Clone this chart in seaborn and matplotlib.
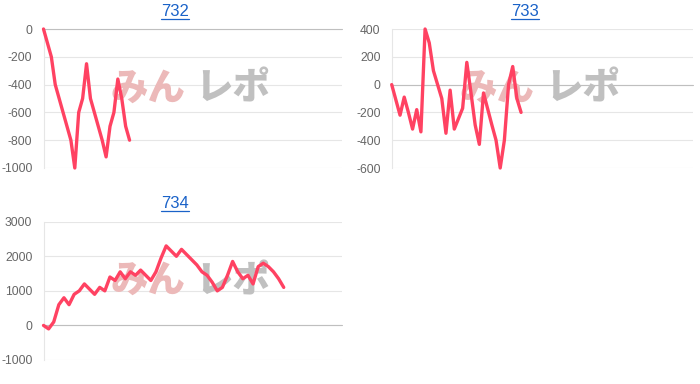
import matplotlib
matplotlib.use("Agg")
import matplotlib.pyplot as plt
from matplotlib.lines import Line2D
import numpy as np
import pandas as pd
import seaborn as sns

# ---------------- data ----------------
titles = ["732", "733", "734"]

vals_732 = [0, -100, -200, -400, -500, -600, -700, -800, -1000, -600, -500,
            -250, -500, -600, -700, -800, -920, -700, -600, -360, -500, -700, -800]

vals_733 = [0, -110, -220, -90, -200, -320, -180, -340, 400, 300, 100,
            0, -100, -350, -40, -320, -245, -170, 160, -60, -290, -430, -60,
            -175, -290, -400, -600, -400, 0, 130, -100, -200]

vals_734 = [0, -100, 100, 600, 800, 600, 900, 1000, 1200, 1050, 900,
            1100, 1000, 1400, 1300, 1550, 1350, 1550, 1450, 1600, 1450, 1300,
            1550, 1950, 2300, 2150, 2000, 2200, 2050, 1900, 1750, 1550, 1450,
            1250, 1000, 1100, 1450, 1850, 1550, 1350, 1450, 1200, 1700, 1800,
            1700, 1550, 1350, 1100]

ylims = [(-1000, 0), (-600, 400), (-1000, 3000)]
ysteps = [200, 200, 1000]
xmaxs = [76.3, 72.2, 58.4]

# ---------------- style ----------------
sns.set_theme(style="white")
plt.rcParams['font.family'] = ['Liberation Sans', 'DejaVu Sans']
plt.rcParams['axes.unicode_minus'] = False

LINE = '#ff4262'
GRID = '#e6e6e6'
ZERO = '#bfbfbf'
TICKC = '#666666'
LINK = '#1a62c8'

W, H = 700, 384
fig = plt.figure(figsize=(W / 100, H / 100), dpi=100)

# pixel boxes: left, top, right, bottom
boxes = [(43.5, 29, 342, 168), (391.7, 29, 693, 168), (43.5, 221.7, 342, 360)]
title_pos = [(175, 11), (525, 11), (175, 203)]

series = [vals_732, vals_733, vals_734]
title_texts = []
for i, (vals, box) in enumerate(zip(series, boxes)):
    l, t, r, b = box
    ax = fig.add_axes([l / W, 1 - b / H, (r - l) / W, (b - t) / H])
    df = pd.DataFrame({'x': np.arange(len(vals)), 'y': vals})
    sns.lineplot(data=df, x='x', y='y', ax=ax, color=LINE, lw=2.4,
                 zorder=4, clip_on=False)
    ymin, ymax = ylims[i]
    ax.set_xlim(0, xmaxs[i])
    ax.set_ylim(ymin, ymax)
    ax.set_yticks(np.arange(ymin, ymax + 1, ysteps[i]))
    ax.set_xticks([])
    ax.set_xlabel('')
    ax.set_ylabel('')
    for s in ['top', 'right', 'bottom']:
        ax.spines[s].set_visible(False)
    ax.spines['left'].set_color(GRID)
    ax.spines['left'].set_linewidth(0.8)
    ax.set_axisbelow(True)
    ax.yaxis.grid(True, color=GRID, lw=0.8)
    ax.axhline(0, color=ZERO, lw=0.8, zorder=1.5, clip_on=False)
    ax.tick_params(axis='y', length=6.5, width=0.8, color=GRID, pad=1.5,
                   labelsize=8.7, labelcolor=TICKC)
    # watermark
    ax.text(0.475, 0.57, "みん", transform=ax.transAxes, ha='right', va='center',
            fontsize=27, fontweight='heavy', color='#ecb9b9',
            family=['Noto Sans CJK JP'], zorder=2)
    ax.text(0.51, 0.57, "レポ", transform=ax.transAxes, ha='left', va='center',
            fontsize=27, fontweight='heavy', color='#c0c0c0',
            family=['Noto Sans CJK JP'], zorder=2)
    cx, cy = title_pos[i]
    tt = fig.text(cx / W, 1 - cy / H, titles[i], ha='center', va='center',
                  color=LINK, fontsize=12)
    title_texts.append(tt)

# underline the link-style titles
fig.canvas.draw()
renderer = fig.canvas.get_renderer()
for tt in title_texts:
    bb = tt.get_window_extent(renderer)
    y = bb.y0 - 0.5
    fig.add_artist(Line2D([bb.x0 / W, bb.x1 / W], [y / H, y / H],
                          transform=fig.transFigure, color=LINK, lw=0.9))

fig.savefig('out.png', dpi=100)
